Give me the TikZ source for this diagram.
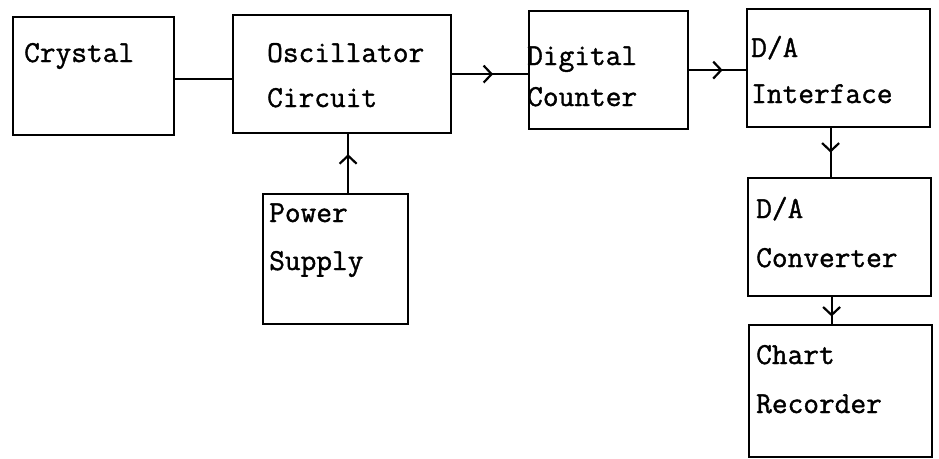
\documentclass[tikz,border=0pt]{standalone}
\usepackage{fontspec}
\newfontfamily\typew[FakeBold=1.2]{Latin Modern Mono}
\usetikzlibrary{arrows.meta,decorations.markings}
\tikzset{
  blk/.style={draw=black, line width=2.2pt, anchor=north west, inner sep=0pt},
  lbl/.style={anchor=base west, inner sep=0pt, font=\fontsize{30.5}{30.5}\selectfont\typew},
  wire/.style={line width=2.2pt},
  midarrow/.style={wire, postaction={decorate},
    decoration={markings, mark=at position #1 with {\arrow[line width=2.2pt]{Straight Barb[length=8pt,width=17pt]}}}}
}
\begin{document}
\begin{tikzpicture}[x=1pt,y=-1pt]
\useasboundingbox (0,0) rectangle (939,458);
% boxes
\node[blk, minimum width=161pt, minimum height=118pt] (cry) at (12,16) {};
\node[blk, minimum width=218pt, minimum height=118pt] (osc) at (232,14) {};
\node[blk, minimum width=159pt, minimum height=118pt] (cnt) at (528,10) {};
\node[blk, minimum width=183pt, minimum height=118pt] (itf) at (746,8) {};
\node[blk, minimum width=183pt, minimum height=118pt] (cnv) at (747,177) {};
\node[blk, minimum width=183pt, minimum height=132pt] (rec) at (748,324) {};
\node[blk, minimum width=145pt, minimum height=130pt] (pwr) at (262,193) {};
% labels
\node[lbl] (t1) at (24,62) {Crystal};
\node[lbl] (t2) at (267,62) {Oscillator};
\node[lbl] (t3) at (267,107) {Circuit};
\node[lbl] (t4) at (527,65) {Digital};
\node[lbl] (t5) at (527,106) {Counter};
\node[lbl] (t6) at (751,57) {D/A};
\node[lbl] (t7) at (751,103) {Interface};
\node[lbl] (t8) at (756,218) {D/A};
\node[lbl] (t9) at (756,267) {Converter};
\node[lbl] (t10) at (756,364) {Chart};
\node[lbl] (t11) at (756,413) {Recorder};
\node[lbl] (t12) at (269,222) {Power};
\node[lbl] (t13) at (269,270) {Supply};
% connectors
\draw[wire] ([yshift=-3pt]cry.east) -- ([yshift=-3pt]cry.east -| osc.west);
\draw[midarrow=0.54] (osc.east) -- (osc.east -| cnt.west);
\draw[midarrow=0.59] (cnt.east) -- (cnt.east -| itf.west);
\draw[midarrow=0.5] ([xshift=-8pt]itf.south) -- ([xshift=-8pt]itf.south |- cnv.north);
\draw[midarrow=0.72] ([xshift=-8pt]cnv.south) -- ([xshift=-8pt]cnv.south |- rec.north);
\draw[midarrow=0.66] ([xshift=12.5pt]pwr.north) -- ([xshift=12.5pt]pwr.north |- osc.south);
\end{tikzpicture}
\end{document}
